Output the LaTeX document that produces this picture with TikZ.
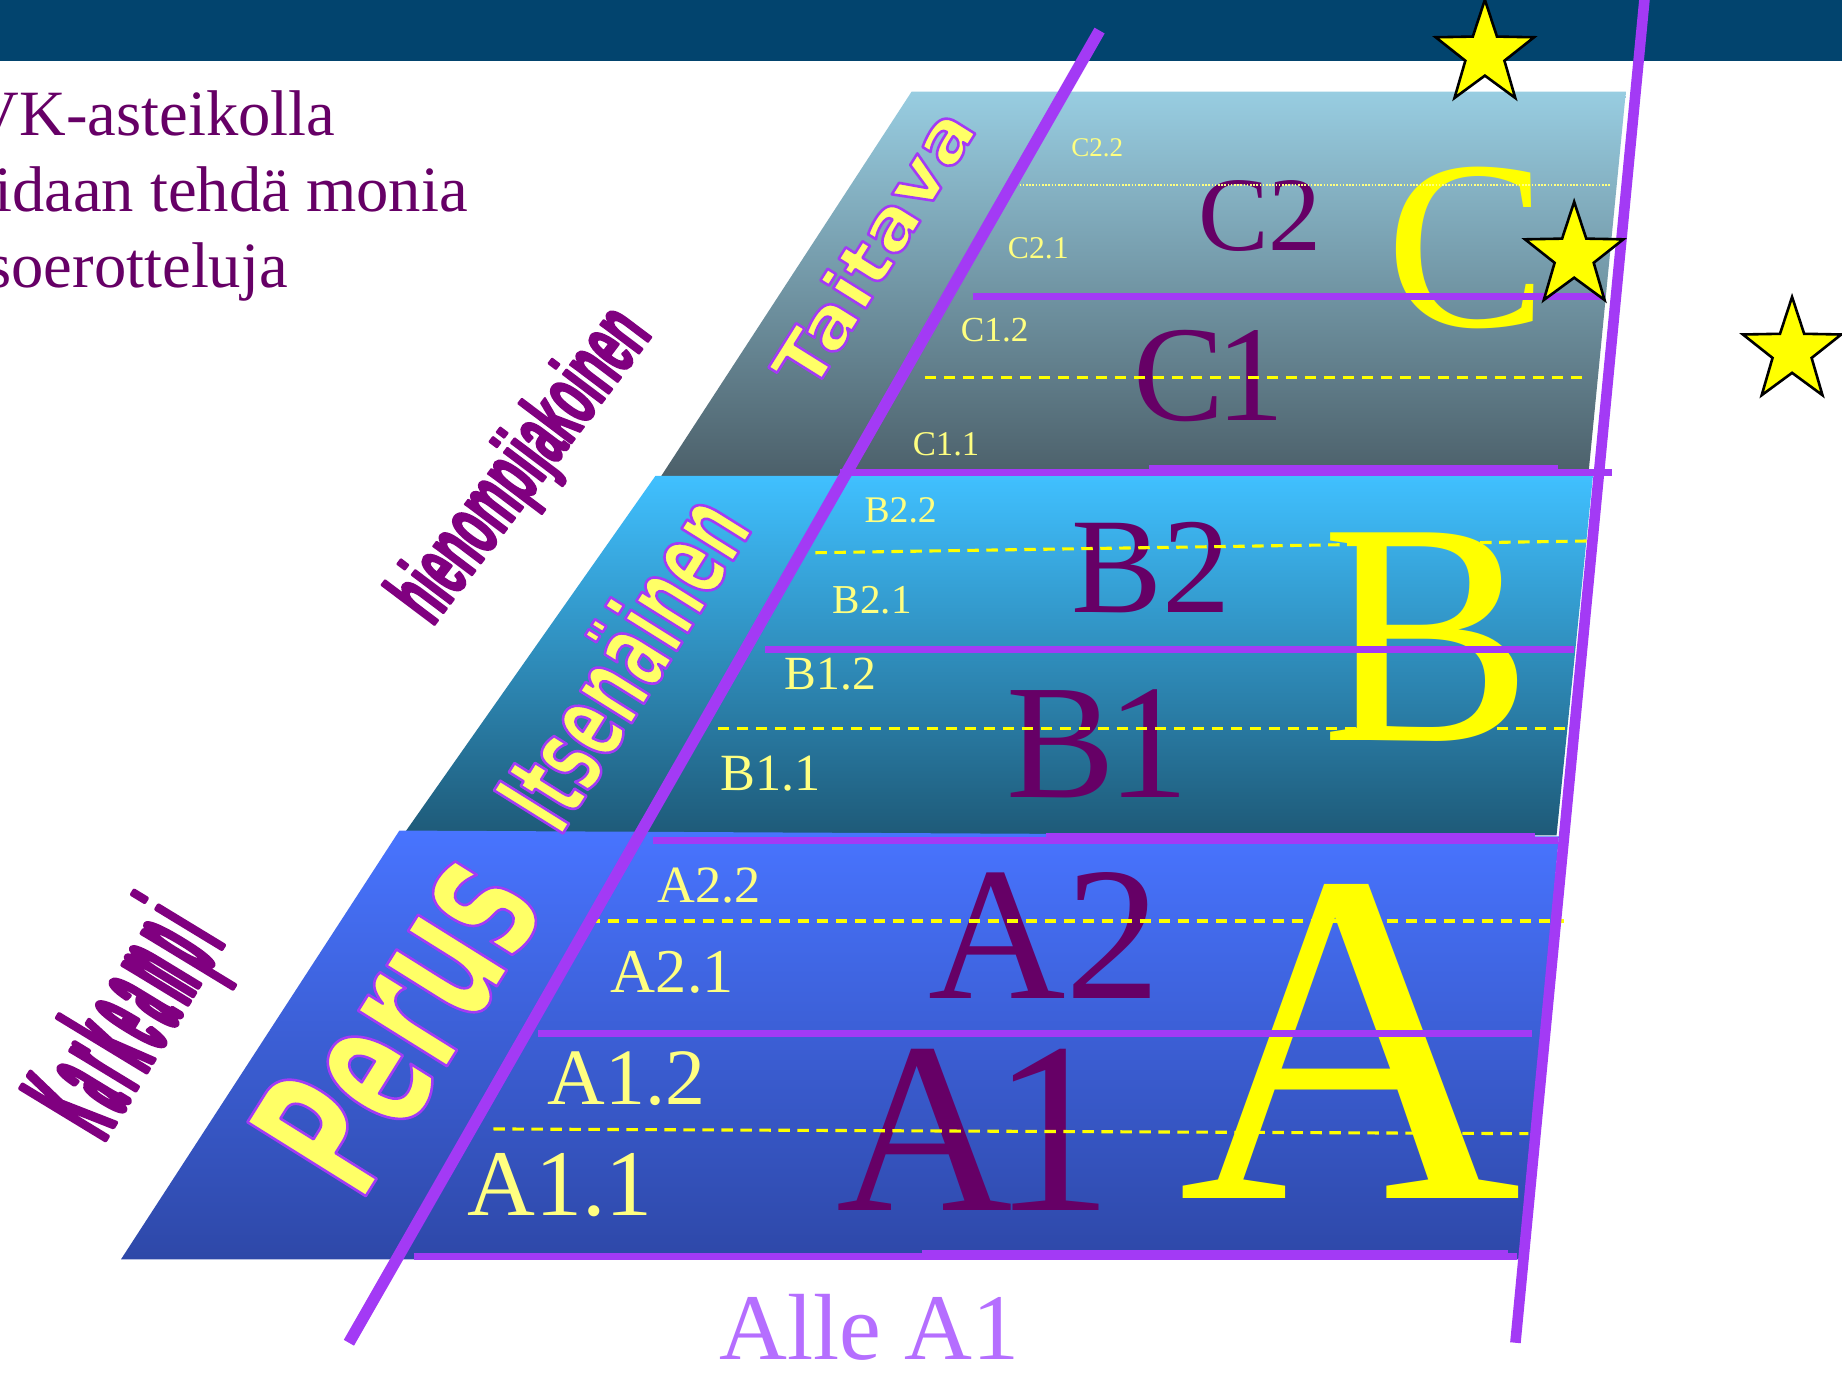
\documentclass[tikz,border=0pt]{standalone}
\usepackage{fontspec}
\setmainfont{Liberation Serif}
\newfontfamily\taitfont{DejaVu Sans}[UprightFont=* Bold, FakeStretch=1.1]
\newfontfamily\itsefont{DejaVu Sans}[UprightFont=* Bold, FakeStretch=0.55]
\newfontfamily\perusfont{DejaVu Sans}[UprightFont=* Bold, FakeStretch=0.57]
\newfontfamily\hienofont{Liberation Sans}[UprightFont=* Bold, FakeStretch=0.47]
\newfontfamily\karkfont{Liberation Sans}[UprightFont=* Bold, FakeStretch=0.22, LetterSpace=6]
\newcommand\fsz[1]{\fontsize{#1pt}{#1pt}\selectfont}
% outline (fill + stroke) text rendering
\newcommand\outl[2]{\special{pdf:literal direct 2 Tr 1 j #1 RG #2 w}}
\newcommand\outloff{\special{pdf:literal direct 0 Tr}}
\definecolor{band}{RGB}{2,68,110}
\definecolor{txtpurple}{RGB}{102,0,102}
\definecolor{wapurple}{RGB}{128,0,128}
\definecolor{linepurple}{RGB}{163,58,245}
\definecolor{lblyellow}{RGB}{255,255,128}
\definecolor{bigyellow}{RGB}{255,255,0}
\definecolor{wayellow}{RGB}{255,255,102}
\definecolor{allecol}{RGB}{181,110,255}
\definecolor{ctop}{RGB}{152,205,225}
\definecolor{cbot}{RGB}{76,96,106}
\definecolor{btop}{RGB}{64,192,255}
\definecolor{bbot}{RGB}{30,90,120}
\definecolor{atop}{RGB}{72,116,255}
\definecolor{abot}{RGB}{46,72,168}
\tikzset{
  lbl/.style={anchor=base west, inner sep=0pt, outer sep=0pt, text=lblyellow},
  bigp/.style={anchor=base west, inner sep=0pt, outer sep=0pt, text=txtpurple},
  bigy/.style={anchor=base west, inner sep=0pt, outer sep=0pt, text=bigyellow},
  lefttxt/.style={anchor=base west, inner sep=0pt, outer sep=0pt, text=txtpurple, font=\fsz{64.6}},
  hline/.style={draw=linepurple, line width=7pt},
  dline/.style={draw=bigyellow, line width=3.1pt, dash pattern=on 11.5pt off 7.5pt},
  starst/.style={draw=black, fill=bigyellow, line width=2.6pt, line join=miter},
  wa/.style={inner sep=0pt, outer sep=0pt},
}
\begin{document}
\begin{tikzpicture}[x=1.17474pt,y=-1.17474pt]
\useasboundingbox (0,0) rectangle (1568,1170);
\fill[white] (0,0) rectangle (1568,1170);
% top band
\fill[band] (0,0) rectangle (1568,52);

% left text
\node[lefttxt] (t1) at (-23,115) {VK-asteikolla};
\node[lefttxt] (t2) at (-5,180) {idaan tehdä monia};
\node[lefttxt] (t3) at (-11.5,245) {soerotteluja};

% regions
\shade[top color=ctop, bottom color=cbot] (776,78) -- (1384,78) -- (1352,405) -- (563,405) -- cycle;
\shade[top color=btop, bottom color=bbot] (558,405) -- (1356,405) -- (1325,711) -- (343,711) -- cycle;
\shade[top color=atop, bottom color=abot] (340,707) -- (1327,712) -- (1295,1072) -- (103,1072) -- cycle;

% big purple labels
\node[bigp, font=\fsz{105.7}] (lc2) at (1020,213.5) {C2};
\node[bigp, font=\fsz{136.3}] (lc1) at (965,358) {C\kern-0.06em 1};
\node[bigp, font=\fsz{136.3}] (lb2) at (912,521) {B2};
\node[bigp, font=\fsz{163.3}] (lb1) at (857,679) {B\kern-0.05em 1};
\node[bigp, font=\fsz{190.3}] (la2) at (790,850) {A2};
\node[bigp, font=\fsz{244.3}] (la1) at (712,1030) {A\kern-0.09em 1};

% big yellow letters
\node[bigy, font=\fsz{240.8}] (bigc) at (1180,278) {C};
\node[bigy, font=\fsz{317.2}] (bigb) at (1125,630) {B};
\node[bigy, font=\fsz{475.8}] (biga) at (1003,1020) {A};

% dashed / dotted sublevel lines
\draw[draw=lblyellow, line width=1.3pt, dash pattern=on 1.6pt off 1.6pt] (868,157.5) -- (1371,157.5);
\draw[dline] (787,321) -- (1353,321);
\draw[dline] (694,470.5) -- (1352,460.5);
\draw[dline] (611,620.5) -- (1344,620.5);
\draw[dline] (501,784) -- (1331,784);
\draw[dline] (420,961) -- (1301,965);

% small labels
\node[lbl, font=\fsz{27}] (c22) at (912,133.5) {C2.2};
\node[lbl, font=\fsz{31.7}] (c21) at (858,220) {C2.1};
\node[lbl, font=\fsz{35.2}] (c12) at (818,291) {C1.2};
\node[lbl, font=\fsz{34.7}] (c11) at (777,388) {C1.1};
\node[lbl, font=\fsz{37.6}] (b22) at (736,445) {B2.2};
\node[lbl, font=\fsz{41.1}] (b21) at (709,522) {B2.1};
\node[lbl, font=\fsz{47.6}] (b12) at (668,587) {B1.2};
\node[lbl, font=\fsz{52.3}] (b11) at (613,673) {B1.1};
\node[lbl, font=\fsz{52.3}] (a22) at (560,768.5) {A2.2};
\node[lbl, font=\fsz{62.3}] (a21) at (520,845) {A2.1};
\node[lbl, font=\fsz{79.9}] (a12) at (466,940) {A1.2};
\node[lbl, font=\fsz{94}] (a11) at (398,1035) {A1.1};

% horizontal purple level lines
\draw[hline] (828,252.5) -- (1366,252.5);
\draw[hline] (715,402.5) -- (1372,402.5);
\fill[linepurple] (978,396) rectangle (1326,403);
\draw[hline] (651,553) -- (1340,553);
\draw[hline] (556,715.5) -- (1326,715.5);
\fill[linepurple] (890,709) rectangle (1307,716);
\draw[hline] (458,880) -- (1304,880);
\draw[hline] (352,1070) -- (1291,1070);
\fill[linepurple] (785,1064) rectangle (1284,1070);

% long purple lines
\draw[draw=linepurple, line width=11.7pt] (297,1143) -- (936,26);
\draw[draw=linepurple, line width=10.6pt] (1400,-2) -- (1290,1143);

% word-art labels
\begin{scope}[shift={(743,211)}]
  \node[wa, rotate=58, text=wayellow] (taitava) at (0,0) {\taitfont\fsz{70.5}\outl{0.639 0.227 0.961}{2.6}Taitava\outloff};
\end{scope}
\begin{scope}[shift={(528.5,562.5)}]
  \node[wa, rotate=58, text=wayellow] (itsenainen) at (0,0) {\itsefont\fsz{111.6}\outl{0.639 0.227 0.961}{2.6}Itsenäinen\outloff};
\end{scope}
\begin{scope}[shift={(336.5,868)}]
  \node[wa, rotate=58, text=wayellow] (perus) at (0,0) {\perusfont\fsz{191.5}\outl{0.639 0.227 0.961}{2.6}Perus\outloff};
\end{scope}
\begin{scope}[shift={(446,397.5)}]
  \node[wa, rotate=53, text=wapurple] (hieno) at (0,0) {\hienofont\fsz{91.6}\outl{0.502 0 0.502}{2}hienompijakoinen\outloff};
\end{scope}
\begin{scope}[shift={(113,871)}]
  \node[wa, rotate=58.7, text=wapurple] (karkea) at (0,0) {\karkfont\fsz{145}\outl{0.502 0 0.502}{4}Karkeampi\outloff};
\end{scope}

% below label
\node[anchor=base west, inner sep=0pt, text=allecol, font=\fsz{94}] (alle) at (612,1157) {Alle A1};

% stars
\begin{scope}[shift={(1264,46)}, yscale=1.05]
  \draw[starst] (270:44) -- (306:17.5) -- (342:44) -- (18:17.5) -- (54:44) -- (90:17.5) -- (126:44) -- (162:17.5) -- (198:44) -- (234:17.5) -- cycle;
\end{scope}
\begin{scope}[shift={(1340,218)}, yscale=1.05]
  \draw[starst] (270:44) -- (306:17.5) -- (342:44) -- (18:17.5) -- (54:44) -- (90:17.5) -- (126:44) -- (162:17.5) -- (198:44) -- (234:17.5) -- cycle;
\end{scope}
\begin{scope}[shift={(1525.5,299)}, yscale=1.05]
  \draw[starst] (270:44) -- (306:17.5) -- (342:44) -- (18:17.5) -- (54:44) -- (90:17.5) -- (126:44) -- (162:17.5) -- (198:44) -- (234:17.5) -- cycle;
\end{scope}
\end{tikzpicture}
\end{document}
